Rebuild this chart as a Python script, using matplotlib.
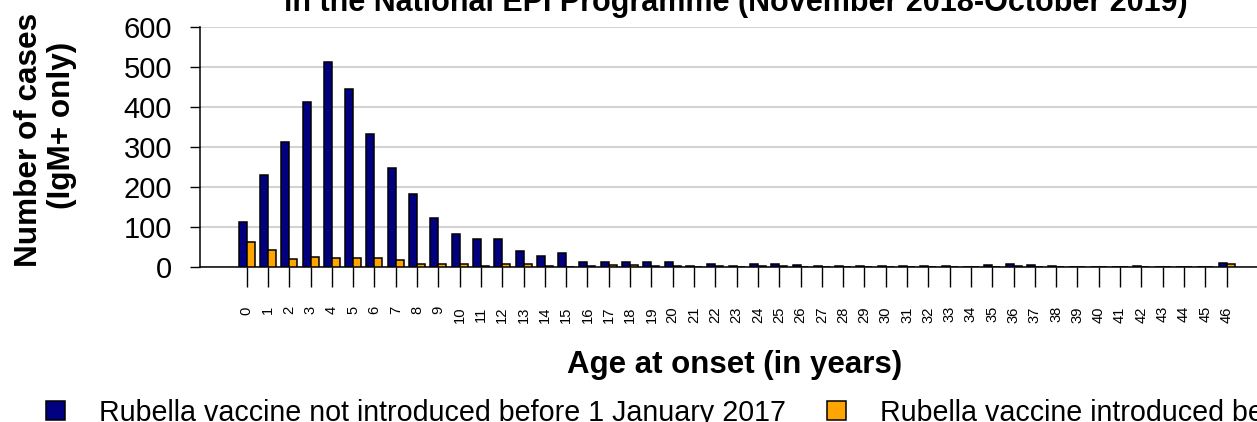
import numpy as np
import matplotlib
matplotlib.use("Agg")
import matplotlib.pyplot as plt
from matplotlib.patches import Patch

plt.rcParams['font.family'] = ['Liberation Sans', 'DejaVu Sans']

# rubella cases (IgM+ only) by age at onset
ages = list(range(47))
not_introduced = [112, 229, 312, 411, 512, 444, 332, 247, 183, 124,
                  82, 71, 71, 41, 27, 36, 12, 14, 12, 12,
                  12, 3, 8, 3, 8, 8, 5, 4, 4, 4,
                  4, 3, 3, 3, 1, 5, 8, 5, 4, 1,
                  1, 1, 3, 1, 1, 1, 10]
introduced = [64, 44, 21, 25, 23, 24, 24, 18, 9, 9,
              9, 4, 8, 7, 4, 1, 4, 6, 5, 3,
              2, 1, 2, 1, 2, 2, 1, 1, 1, 1,
              1, 1, 1, 1, 0, 1, 2, 1, 1, 0,
              0, 0, 1, 0, 0, 0, 7]
series_names = ["Rubella vaccine not introduced before 1 January 2017",
                "Rubella vaccine introduced before 1 January 2017"]
colors = ['#000080', '#FFA500']

fig = plt.figure(figsize=(12.57, 4.22), dpi=100)
ax = fig.add_axes([200/1257, 1-267.3/422, 1070/1257, 240.6/422])

x = np.arange(len(ages))
w = 0.375
ax.bar(x - w/2, not_introduced, w, color=colors[0], edgecolor='black', linewidth=1.1, zorder=3)
ax.bar(x + w/2, introduced, w, color=colors[1], edgecolor='black', linewidth=1.1, zorder=3)

ax.set_xlim(-2.19, 48.04)
ax.set_ylim(0, 600)
ax.set_yticks(range(0, 601, 100))
ax.set_xticks(x)
ax.set_xticklabels([str(a) for a in ages], rotation=90, fontsize=10.6)
ax.tick_params(axis='x', length=14.5, width=1, pad=13.5)
ax.tick_params(axis='y', labelsize=21, length=7, width=1, pad=13)
ax.grid(axis='y', color='#d3d3d3', linewidth=1.5)
ax.set_axisbelow(True)
for s in ['top', 'right']:
    ax.spines[s].set_visible(False)
for s in ['left', 'bottom']:
    ax.spines[s].set_linewidth(1.1)

ax.set_xlabel("Age at onset (in years)", fontsize=22.5, fontweight='bold')
ax.xaxis.set_label_coords(0.5, -0.3437)

fig.text(736/1257, 1-10.5/422, "in the National EPI Programme (November 2018-October 2019)",
         ha='center', va='baseline', fontsize=22, fontweight='bold')

# y axis title, two lines
fig.text(37/1257, 1-140/422, "Number of cases", rotation=90, rotation_mode='anchor',
         ha='center', va='baseline', fontsize=22.7, fontweight='bold')
fig.text(70/1257, 1-125/422, "(IgM+ only)", rotation=90, rotation_mode='anchor',
         ha='center', va='baseline', fontsize=22.7, fontweight='bold')

handles = [Patch(facecolor=c, edgecolor='black', linewidth=1.1) for c in colors]
fig.legend(handles, series_names, loc='upper left', bbox_to_anchor=(46/1257, 1-399/422),
           ncol=2, frameon=False, fontsize=20.6, handlelength=0.65, handleheight=0.65,
           handletextpad=1.2, columnspacing=1.45, borderpad=0, borderaxespad=0)

fig.savefig('out.png', dpi=100)
